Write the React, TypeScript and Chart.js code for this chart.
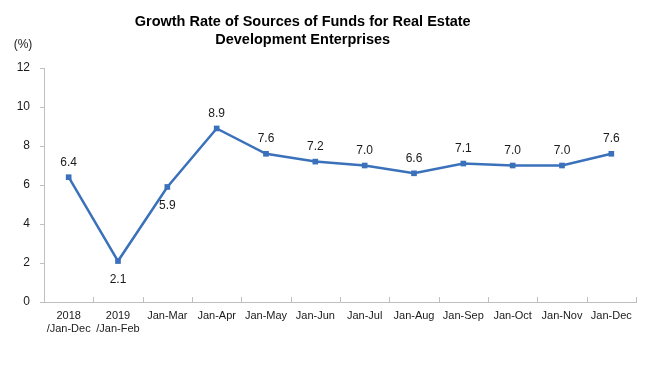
import React, { useEffect, useRef } from "react";
import { Chart, registerables } from "chart.js";

Chart.register(...registerables);

const categories: (string | string[])[] = [
  ["2018", "/Jan-Dec"],
  ["2019", "/Jan-Feb"],
  "Jan-Mar",
  "Jan-Apr",
  "Jan-May",
  "Jan-Jun",
  "Jan-Jul",
  "Jan-Aug",
  "Jan-Sep",
  "Jan-Oct",
  "Jan-Nov",
  "Jan-Dec",
];
const growthRate: number[] = [6.4, 2.1, 5.9, 8.9, 7.6, 7.2, 7.0, 6.6, 7.1, 7.0, 7.0, 7.6];
const labelBelow: boolean[] = [false, true, true, false, false, false, false, false, false, false, false, false];
const titleLines: string[] = ["Growth Rate of Sources of Funds for Real Estate", "Development Enterprises"];
const unitLabel = "(%)";

const FONT = "Arial, 'Liberation Sans', sans-serif";
const LINE_COLOR = "#3A71BA";
const AXIS_COLOR = "#BFBFBF";
const TEXT_COLOR = "#1a1a1a";

const overlayPlugin = {
  id: "overlay",
  afterDatasetsDraw(chart: any) {
    const { ctx } = chart;
    const area = chart.chartArea;
    const xScale = chart.scales.x;
    ctx.save();
    // inward x ticks at category boundaries
    ctx.strokeStyle = AXIS_COLOR;
    ctx.lineWidth = 1;
    const n = categories.length;
    const step = xScale.getPixelForValue(1) - xScale.getPixelForValue(0);
    for (let i = 0; i <= n; i++) {
      const px = Math.round(xScale.getPixelForValue(0) - step / 2 + step * i) + 0.5;
      ctx.beginPath();
      ctx.moveTo(px, area.bottom);
      ctx.lineTo(px, area.bottom - 5);
      ctx.stroke();
    }
    // data labels
    const meta = chart.getDatasetMeta(0);
    ctx.fillStyle = TEXT_COLOR;
    ctx.font = `12px ${FONT}`;
    ctx.textAlign = "center";
    ctx.textBaseline = "middle";
    meta.data.forEach((pt: any, i: number) => {
      const txt = growthRate[i].toFixed(1);
      const dy = labelBelow[i] ? 19 : -15;
      ctx.fillText(txt, pt.x, pt.y + dy);
    });
    // title
    ctx.fillStyle = "#000";
    ctx.font = `bold 14.5px ${FONT}`;
    const cx = area.left + (area.right - area.left) * 0.437;
    ctx.fillText(titleLines[0], cx, 22);
    ctx.fillText(titleLines[1], cx, 40);
    // unit label
    ctx.font = `12px ${FONT}`;
    ctx.fillStyle = TEXT_COLOR;
    ctx.fillText(unitLabel, 23, 45);
    ctx.restore();
  },
};

export default function App() {
  const ref = useRef<HTMLCanvasElement>(null);
  useEffect(() => {
    document.body.style.margin = "0";
    const chart = new Chart(ref.current as HTMLCanvasElement, {
      type: "line",
      data: {
        labels: categories,
        datasets: [
          {
            data: growthRate,
            borderColor: LINE_COLOR,
            backgroundColor: LINE_COLOR,
            borderWidth: 2.5,
            pointStyle: "rect",
            pointRadius: 4,
            pointBorderWidth: 0,
            tension: 0,
          },
        ],
      },
      options: {
        responsive: false,
        animation: false,
        layout: { padding: { left: 0, right: 23, top: 68, bottom: 0 } },
        plugins: { legend: { display: false }, tooltip: { enabled: false }, title: { display: false } },
        scales: {
          x: {
            offset: true,
            grid: { display: true, offset: true, drawOnChartArea: false, drawTicks: false, color: AXIS_COLOR },
            border: { display: true, color: AXIS_COLOR, width: 1 },
            ticks: { color: TEXT_COLOR, font: { size: 11, family: FONT }, padding: 7, maxRotation: 0, autoSkip: false },
            afterFit: (s: any) => { s.height = 85; },
          },
          y: {
            min: 0,
            max: 12,
            grid: { display: true, drawOnChartArea: false, drawTicks: true, tickLength: 4, color: AXIS_COLOR },
            border: { display: true, color: AXIS_COLOR, width: 1 },
            ticks: { stepSize: 2, color: TEXT_COLOR, font: { size: 12, family: FONT }, padding: 10 },
            afterFit: (s: any) => { s.width = 44; },
          },
        },
      },
      plugins: [overlayPlugin],
    });
    return () => chart.destroy();
  }, []);
  return (
    <div style={{ position: "absolute", left: 0, top: 0, width: 659, height: 387, background: "#fff" }}>
      <canvas ref={ref} width={659} height={387} />
    </div>
  );
}
